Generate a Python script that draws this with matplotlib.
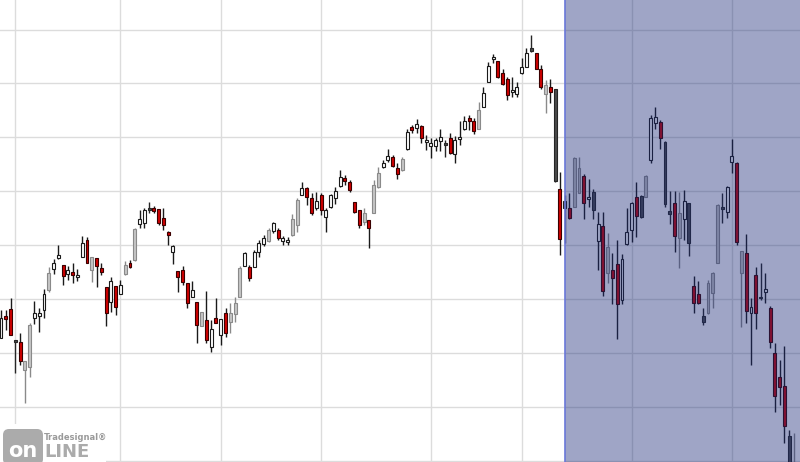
import numpy as np
import matplotlib
matplotlib.use("Agg")
import matplotlib.pyplot as plt
from matplotlib.patches import FancyBboxPatch, Rectangle

# candle data (price levels), one entry per trading day
opens = [124, 146, 153, 122, 120, 92, 95, 144, 146, 152, 172, 193, 204, 197, 188, 190, 185.5, 205, 222, 192,
         204, 194, 175, 160, 176, 168, 188, 199, 202, 238, 239, 253.5, 254, 253, 244, 230, 210, 191, 192, 179,
         165, 160, 136, 142, 115, 144, 127, 149, 140, 148, 165, 196, 195, 195, 210, 218, 221, 231, 232, 221,
         220.5, 227, 237, 267, 274, 264, 254, 267, 245, 255, 264, 276, 284, 280, 260, 252, 240, 242, 249, 275,
         295, 302, 305, 294, 292, 313, 335, 334, 336, 320.5, 316, 316, 321, 319, 324, 308, 323.5, 333, 344, 341,
         333, 355, 380, 403, 401, 389, 383, 370, 368, 389, 395, 414, 409, 393, 368, 375, 373, 273, 261, 254,
         255, 269, 286, 263, 270, 221, 236, 189, 192, 198, 162, 218, 232, 265, 266, 265, 302, 339, 340, 320,
         251, 259, 224, 243, 259, 176, 168, 146, 149, 169, 199, 254.5, 250, 300, 299, 189, 209, 149, 187, 165,
         170, 154, 109, 85, 76, 26, -20]
highs = [152, 152, 164, 122, 129, 101, 139, 161, 154, 173, 195, 203, 217, 197, 196, 199, 193, 226, 225, 205,
         204, 199, 175, 185, 176, 182, 201, 202, 234, 252, 254, 260, 256, 253, 254, 231, 217, 191, 196, 179,
         181, 160, 150, 171, 142, 164, 143, 154, 159, 165, 196, 210, 197, 212, 222, 227, 234, 240, 234, 226,
         225, 248, 264, 280, 275, 269, 270, 269, 254, 268, 275, 292, 287, 282, 260, 252, 254, 242, 282, 295,
         302, 313, 307, 299, 305, 333, 337, 343, 337, 327, 324, 324, 333, 322, 329, 326, 341, 346, 347, 344,
         360, 375, 400, 408, 401, 393, 385, 385, 380, 404, 414, 427, 409, 397, 382, 383, 373, 290, 267, 269,
         305, 305, 288, 283, 273, 250, 250, 229, 209, 222, 208, 254, 260, 280, 267, 287, 347, 355, 342, 321,
         271, 271, 270, 272, 259, 186, 181, 154, 182, 190, 258, 269, 276, 323, 300, 211, 228, 164, 195, 199,
         189, 156, 119, 102, 116, 32, 29]
lows = [124, 132, 127, 89, 97, 59, 85, 138, 130, 144, 170, 188, 203, 177, 182, 179, 181, 205, 199, 180,
        175, 187, 136, 150, 147, 168, 187, 194, 201, 234, 234, 249, 249, 237, 232, 217, 198, 170, 177, 154,
        165, 119, 136, 119, 110, 139, 117, 125, 129, 140, 165, 196, 181, 195, 205, 216, 220, 229, 222, 217,
        217, 226, 230, 267, 257, 247, 252, 247, 230, 254, 258, 275, 277, 270, 249, 234, 237, 214, 249, 274,
        294, 300, 295, 283, 291, 312, 329, 329, 319, 312, 304, 311, 311, 305, 308, 299, 317, 332, 332, 328,
        333, 355, 380, 399, 384, 377, 362, 365, 365, 388, 395, 410, 393, 373, 349, 359, 280, 207, 219, 243,
        255, 269, 243, 255, 243, 192, 166, 179, 158, 123, 158, 217, 220, 225, 244, 265, 299, 333, 313, 255,
        238, 210, 194, 222, 206, 149, 158, 137, 148, 154, 199, 239, 244, 289, 217, 135, 139, 97, 133, 162,
        159, 114, 50, 57, 19, -13, -25]
closes = [144, 143, 127, 120, 101, 101, 137, 149, 149, 168, 189, 199, 207, 186, 192, 187, 186.5, 219, 199, 205,
          196, 190, 149, 181, 155, 177, 197, 195, 233, 243, 252, 252.5, 251, 239, 237, 227, 216, 185, 180, 159,
          172, 137, 150, 122, 133, 139, 143, 129, 149, 159, 194, 209, 184, 210, 219, 224, 232, 239, 224, 224,
          221.5, 243, 262, 274, 265, 249, 261, 252, 252, 267, 271, 285, 281, 272, 250, 237, 249, 234, 277, 289,
          299, 306, 296, 288, 303, 330, 332, 338, 324, 321.5, 319, 322, 325, 317, 309, 322, 325, 341, 341, 331,
          352, 369, 396, 405, 385, 378, 367, 372, 375, 395, 409, 411, 393, 375, 377, 370, 281, 223, 254, 244,
          304, 294, 259, 265, 252, 238, 171, 215, 184, 158, 203, 230, 259, 246, 245, 286, 344, 345, 324, 258,
          248, 226, 249, 261, 219, 159, 159, 140, 179, 189, 257, 253.5, 275, 306, 220, 211, 151, 155, 149, 164,
          173, 120, 66, 75, 36, -8, -5]
# w = hollow up, r = red down, g = gray, k = dark
kinds = ("wrrkrggwwwgwwrwrwwrgrrrwrwgr"
         "gwwkrrrrwrrrwrgrwrwrgggwrwww"
         "gwrwwggwrrwrwwwwrrrrgrggwwr"
         "rgwrwrwwwwkrwwwrrgwwwrrrwwwwkrrgrkr"
         "krggrwkwrgrrwwwrkgwwrkkr"
         "gwkrrkgggkwwrgrwrkwrrrrkg")
# trading day index where a new month starts (vertical grid)
month_starts = [3, 25, 46, 67, 90, 109, 132, 153]
forecast_start = 118

styles = {
    "w": ("#ffffff", "#1a1a1a", "#1a1a1a"),
    "r": ("#d00000", "#3a0000", "#1a1a1a"),
    "g": ("#c6c6c6", "#8a8a8a", "#8a8a8a"),
    "k": ("#4a4a4a", "#262626", "#262626"),
}

o = np.array(opens, dtype=float)
h = np.array(highs, dtype=float)
l = np.array(lows, dtype=float)
c = np.array(closes, dtype=float)
x = np.arange(len(o))

fig = plt.figure(figsize=(8, 4.62), dpi=100)
ax = fig.add_axes([0, 0, 1, 1])

# grid
for m in month_starts:
    ax.axvline(m, color="#dcdcdc", lw=1, zorder=0)
for lev in np.arange(1.5, 462, 53.87):
    ax.axhline(lev, color="#dcdcdc", lw=1, zorder=0)

faces = [styles[k][0] for k in kinds]
edges = [styles[k][1] for k in kinds]
wicks = [styles[k][2] for k in kinds]

ax.vlines(x, l, h, colors=wicks, lw=1, zorder=2)
body_h = np.maximum(np.abs(c - o), 1.2)
ax.bar(x, body_h, bottom=np.minimum(o, c), width=0.62, color=faces,
       edgecolor=edges, linewidth=0.8, zorder=3)

# shaded forecast area
ax.axvspan(forecast_start, len(o) + 5, color="#1a2a78", alpha=0.42, lw=0, zorder=4)
ax.axvline(forecast_start, color="#6a78d8", lw=1.2, zorder=5)

ax.set_xlim(-0.21, 167.26)
ax.set_ylim(0, 462)
ax.axis("off")

# logo
lg = fig.add_axes([0, 0, 1, 1], zorder=10)
lg.set_xlim(0, 800)
lg.set_ylim(462, 0)
lg.axis("off")
lg.add_patch(Rectangle((0, 424), 106, 38, color="white", lw=0))
lg.add_patch(FancyBboxPatch((3, 429), 40, 36, boxstyle="round,pad=0,rounding_size=6",
                            color="#ababab", lw=0))
lg.text(23, 457, "on", color="white", fontsize=15, fontweight="bold",
        ha="center", va="baseline")
lg.text(44, 457, "LINE", color="#ababab", fontsize=13, fontweight="bold",
        ha="left", va="baseline")
lg.text(44, 439.5, "Tradesignal\u00ae", color="#9a9a9a", fontsize=6, fontweight="bold",
        ha="left", va="baseline")

fig.savefig("out.png", dpi=100)
